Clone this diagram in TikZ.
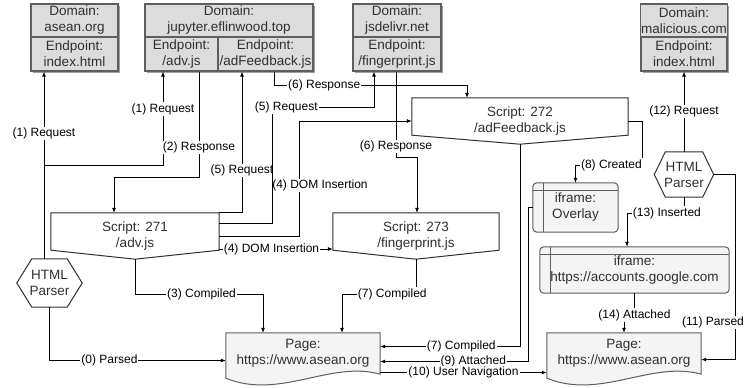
\documentclass[tikz,border=0pt]{standalone}
\usepackage{fontspec}
\setsansfont{Liberation Sans}
\usepackage{xcolor}
\usepackage{tikz}
\usetikzlibrary{arrows.meta, positioning, calc, backgrounds, shadows}
\definecolor{boxgray}{HTML}{DCDCDC}
\definecolor{edgegray}{HTML}{5E5E5E}
\definecolor{pagegray}{HTML}{F4F4F4}
\definecolor{shadowgray}{HTML}{A0A0A0}
\definecolor{inkdark}{HTML}{303030}

% outlines of the drawn-by-hand shapes
\newcommand{\jsoutline}[1]{%
  \draw[line width=1pt, draw=inkdark, fill=white] (#1.north west) -- (#1.north east)
    -- ([yshift=9pt]#1.south east) -- (#1.south) -- ([yshift=9pt]#1.south west) -- cycle;}
\newcommand{\docoutline}[1]{%
  \draw[line width=1pt, draw=edgegray, fill=pagegray] (#1.north west) -- (#1.north east)
    -- (#1.south east) .. controls +(-50,-14) and +(54,22) .. ([yshift=-4pt]#1.south west) -- cycle;}
\newcommand{\hexoutline}[2]{%
  \draw[line width=1pt, draw=inkdark, fill=white] (#1.west) -- ([xshift=#2]#1.north west)
    -- ([xshift=-#2]#1.north east) -- (#1.east) -- ([xshift=-#2]#1.south east)
    -- ([xshift=#2]#1.south west) -- cycle;}
\newcommand{\frameoutline}[1]{%
  \draw[line width=1pt, draw=edgegray, fill=pagegray, rounded corners=4pt] (#1.north west) rectangle (#1.south east);
  \draw[line width=1pt, draw=edgegray] ([xshift=11pt]#1.north west) -- ([xshift=11pt]#1.south west);
  \draw[line width=1pt, draw=edgegray] ([yshift=-8pt]#1.north west) -- ([yshift=-8pt]#1.north east);}

\begin{document}
\begin{tikzpicture}[x=1pt, y=-1pt, font=\sffamily\fontsize{13.5}{16}\selectfont]
    \tikzstyle{domainbox} = [rectangle, draw=edgegray, fill=boxgray, line width=1.2pt, align=center,
      inner sep=0.5pt, text=inkdark, minimum height=33pt,
      drop shadow={shadow xshift=2pt, shadow yshift=-2pt, fill=shadowgray, opacity=1}]
    \tikzstyle{endpointbox} = [domainbox, minimum height=34pt]
    \tikzstyle{scriptbox} = [rectangle, minimum height=46pt, align=center, inner sep=1pt, text=inkdark]
    \tikzstyle{iframebox} = [rectangle, align=center, inner sep=1pt, text=inkdark]
    \tikzstyle{parserbox} = [rectangle, align=center, inner sep=1pt, text=inkdark]
    \tikzstyle{pagebox} = [rectangle, minimum width=154pt, minimum height=41pt, align=center, inner sep=1pt, text=inkdark]
    \tikzstyle{edgelabel} = [font=\sffamily\fontsize{12}{14}\selectfont, fill=white, inner sep=1pt]
    \tikzstyle{flow} = [-{Latex[length=5pt, width=4pt]}, line width=0.8pt]

    \useasboundingbox (0,0) rectangle (748,388);

    % domains and endpoints
    \node (dasean) [domainbox, minimum width=87pt] at (74.5,20.5) {Domain:\\asean.org};
    \node (easean) [endpointbox, minimum width=87pt] at (74.5,54) {Endpoint:\\index.html};
    \node (djup) [domainbox, minimum width=168pt] at (229,20.5) {Domain:\\jupyter.eflinwood.top};
    \node (eadv) [endpointbox, minimum width=73pt] at (181.5,54) {Endpoint:\\/adv.js};
    \node (efeed) [endpointbox, minimum width=95pt] at (265.5,54) {Endpoint:\\/adFeedback.js};
    \node (djsd) [domainbox, minimum width=88pt] at (397,20.5) {Domain:\\jsdelivr.net};
    \node (efp) [endpointbox, minimum width=88pt] at (397,54) {Endpoint:\\/fingerprint.js};
    \node (dmal) [domainbox, minimum width=86pt] at (684,20.5) {Domain:\\malicious.com};
    \node (emal) [endpointbox, minimum width=86pt] at (684,54) {Endpoint:\\index.html};

    % scripts, iframes, parsers, pages
    \node (s271) [scriptbox, minimum width=168pt] at (135,236) {Script: 271\\/adv.js};
    \node (s272) [scriptbox, minimum width=216pt] at (520,121) {Script: 272\\/adFeedback.js};
    \node (s273) [scriptbox, minimum width=166pt] at (416,236) {Script: 273\\/fingerprint.js};
    \node (ifov) [iframebox, minimum width=85pt, minimum height=49pt] at (575.5,207.5) {iframe:\\Overlay};
    \node (ifgo) [iframebox, minimum width=189pt, minimum height=46pt] at (634.5,270) {iframe:\\https://accounts.google.com};
    \node (pleft) [parserbox, minimum width=65pt, minimum height=48pt] at (49.5,283) {HTML\\Parser};
    \node (pright) [parserbox, minimum width=59pt, minimum height=45pt] at (684,174.5) {HTML\\Parser};
    \node (pgl) [pagebox] at (303,353.5) {Page:\\https://www.asean.org};
    \node (pgr) [pagebox] at (624,353.5) {Page:\\https://www.asean.org};

    \begin{scope}[on background layer]
      \jsoutline{s271} \jsoutline{s272} \jsoutline{s273}
      \frameoutline{ifov} \frameoutline{ifgo}
      \hexoutline{pleft}{15pt} \hexoutline{pright}{11pt}
      \docoutline{pgl} \docoutline{pgr}
    \end{scope}

    % connectors
    \draw [flow] (pleft.south) |- ([yshift=-7pt]pgl.west) node[edgelabel, pos=0.67] {(0) Parsed};
    \draw [flow] ([xshift=-5.5pt]pleft.north) -- ([xshift=-30.5pt]easean.south) node[edgelabel, pos=0.67] {(1) Request};
    \draw [flow] ([xshift=-5.5pt]pleft.north) |- (163,165) -- ([xshift=-18.5pt]eadv.south) node[edgelabel, pos=0.6] {(1) Request};
    \draw [flow] ([xshift=17.5pt]eadv.south) |- (114,177) node[edgelabel, pos=0.36] {(2) Response} -- ([xshift=-21pt]s271.north);
    \draw [flow] (s271.south) |- (263,294) node[edgelabel, pos=0.76] {(3) Compiled} -- ([xshift=-40pt]pgl.north);
    \draw [flow] (s271.east) -| (299,121) node[edgelabel, pos=0.72, xshift=21pt] {(4) DOM Insertion} -- (s272.west);
    \draw [flow] ([yshift=-13pt]s271.east) -- ([yshift=-13pt]s273.west) node[edgelabel, pos=0.46] {(4) DOM Insertion};
    \draw [flow] (s271.north east) -| ([xshift=-23.5pt]efeed.south) node[edgelabel, pos=0.65] {(5) Request};
    \draw [flow] ([yshift=-11pt]s271.north east) -| (272,107) -| ([xshift=-23pt]efp.south) node[edgelabel, pos=0.07] {(5) Request};
    \draw [flow] ([xshift=8.5pt]efeed.south) |- (467,85) node[edgelabel, pos=0.63] {(6) Response} -- ([xshift=-53pt]s272.north);
    \draw [flow] ([xshift=-1pt]efp.south) |- (417,157) node[edgelabel, pos=0.44] {(6) Response} -- ([xshift=1pt]s273.north);
    \draw [flow] (s273.south) |- (342,294) node[edgelabel, pos=0.66] {(7) Compiled} -- ([xshift=39pt]pgl.north);
    \draw [flow] (s272.south) |- ([yshift=7pt]pgl.east) node[edgelabel, pos=0.71] {(7) Compiled};
    \draw [flow] (s272.east) -| (642,165) -| (ifov.north) node[edgelabel, pos=0.23] {(8) Created};
    \draw [flow] (ifov.west) -| (528,361.5) -- ([yshift=-8pt]pgl.east) node[edgelabel, pos=0.37] {(9) Attached};
    \draw [flow] ([yshift=-19pt]pgl.east) -- ([yshift=-19pt]pgr.west) node[edgelabel, midway] {(10) User Navigation};
    \draw [flow] (pright.east) -| (735,359.5) node[edgelabel, pos=0.9, xshift=-22pt] {(11) Parsed} -- ([yshift=-6pt]pgr.east);
    \draw [flow] (pright.north) -- (emal.south) node[edgelabel, midway] {(12) Request};
    \draw [flow] (pright.south) |- (627,213) node[edgelabel, pos=0.65] {(13) Inserted} -- ([xshift=-7.5pt]ifgo.north);
    \draw [flow] (ifgo.south) |- (624,315) node[edgelabel, pos=0.5] {(14) Attached} -- (pgr.north);
\end{tikzpicture}
\end{document}
